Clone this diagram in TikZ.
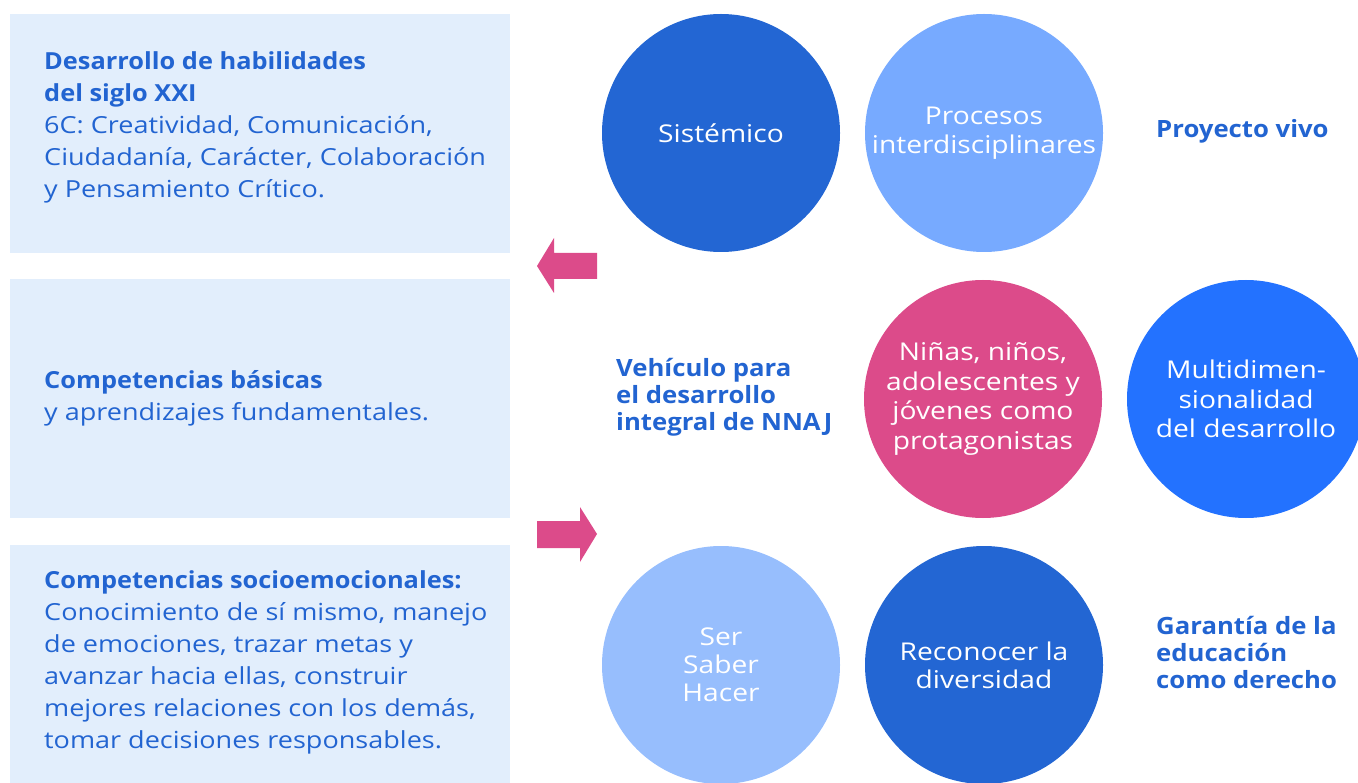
\documentclass[tikz,border=0pt]{standalone}
\usepackage{fontspec}
\setmainfont{Open Sans}[FakeStretch=1.15, BoldFeatures={FakeStretch=1.08}]
\definecolor{txtblue}{HTML}{2264D1}
\definecolor{boxfill}{HTML}{E2EEFC}
\definecolor{cdark}{HTML}{2366D3}
\definecolor{clight}{HTML}{77AAFF}
\definecolor{cpink}{HTML}{DC4B8A}
\definecolor{cbright}{HTML}{2372FF}
\definecolor{cpale}{HTML}{97BEFD}
\tikzset{
  panel/.style={fill=boxfill, draw=none},
  paneltext/.style={anchor=west, align=left, inner sep=0pt, text=txtblue, font={\fontsize{23.5}{32}\selectfont}},
  bubble/.style={circle, draw=none, minimum size=238pt, inner sep=0pt, align=center, text=white, font={\fontsize{24.5}{29.5}\selectfont}},
  label/.style={anchor=west, align=left, inner sep=0pt, text=txtblue, font={\fontsize{23.8}{27}\selectfont\bfseries}},
  blockarrow/.style={fill=cpink, draw=none}
}
\begin{document}
\begin{tikzpicture}[x=1pt,y=-1pt]
\useasboundingbox (0,0) rectangle (1358,783);
% panels
\path[panel] (10,14) rectangle (510,253);
\path[panel] (10,279) rectangle (510,518);
\path[panel] (10,545) rectangle (510,790);
\node[paneltext] (t1) at (44,127) {\textbf{Desarrollo de habilidades}\\\textbf{del siglo XXI}\\6C: Creatividad, Comunicación,\\Ciudadanía, Carácter, Colaboración\\y Pensamiento Crítico.};
\node[paneltext] (t2) at (44,398) {\textbf{Competencias básicas}\\y aprendizajes fundamentales.};
\node[paneltext] (t3) at (44,662) {\textbf{Competencias socioemocionales:}\\Conocimiento de sí mismo, manejo\\de emociones, trazar metas y\\avanzar hacia ellas, construir\\mejores relaciones con los demás,\\tomar decisiones responsables.};
% arrows
\fill[blockarrow] (537,266) -- (554,238) -- (554,253) -- (597,253) -- (597,279) -- (554,279) -- (554,293) -- cycle;
\fill[blockarrow] (537,521) -- (580,521) -- (580,507) -- (597,534) -- (580,562) -- (580,548) -- (537,548) -- cycle;
% circles
\node[bubble, fill=cdark] (c1) at (721,133) {Sistémico};
\node[bubble, fill=clight] (c2) at (984,133) {Procesos\\interdisciplinares};
\node[bubble, fill=cpink] (c3) at (983,399) {Niñas, niños,\\adolescentes y\\jóvenes como\\protagonistas};
\node[bubble, fill=cbright] (c4) at (1246,399) {Multidimen-\\sionalidad\\del desarrollo};
\node[bubble, fill=cpale, font={\fontsize{24.5}{28}\selectfont}] (c5) at (721,665) {Ser\\Saber\\Hacer};
\node[bubble, fill=cdark, font={\fontsize{24.5}{28}\selectfont}] (c6) at (984,665) {Reconocer la\\diversidad};
% labels
\node[label] (l1) at (1156,131) {Proyecto vivo};
\node[label] (l2) at (616,397) {Vehículo para\\el desarrollo\\integral de NNAJ};
\node[label] (l3) at (1156,652) {Garantía de la\\educación\\como derecho};
\end{tikzpicture}
\end{document}
